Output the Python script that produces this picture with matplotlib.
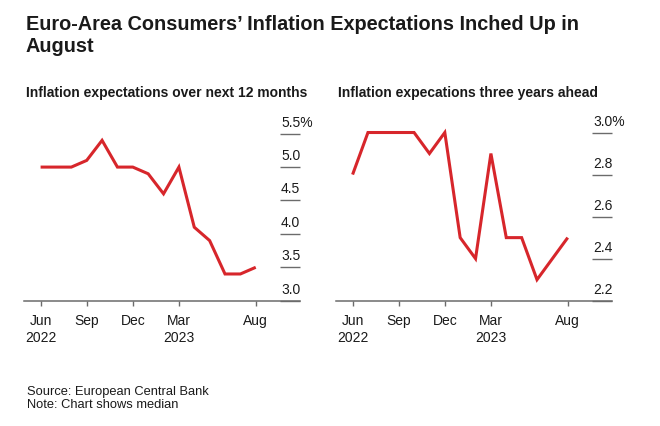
import matplotlib
matplotlib.use("Agg")
import matplotlib.pyplot as plt
import numpy as np

plt.rcParams['font.family'] = ['Liberation Sans', 'DejaVu Sans']

months = ["Jun 2022", "Jul", "Aug", "Sep", "Oct", "Nov", "Dec", "Jan 2023",
          "Feb", "Mar", "Apr", "May", "Jun", "Jul", "Aug 2023"]
one_year = [5.0, 5.0, 5.0, 5.1, 5.4, 5.0, 5.0, 4.9, 4.6, 5.0, 4.1, 3.9, 3.4, 3.4, 3.5]
three_year = [2.8, 3.0, 3.0, 3.0, 3.0, 2.9, 3.0, 2.5, 2.4, 2.9, 2.5, 2.5, 2.3, 2.4, 2.5]

xtick_pos = [0, 3, 6, 9, 14]
xtick_labels = ["Jun\n2022", "Sep", "Dec", "Mar\n2023", "Aug"]

left_yticks = [3.0, 3.5, 4.0, 4.5, 5.0, 5.5]
left_ylabels = ["3.0", "3.5", "4.0", "4.5", "5.0", "5.5%"]
right_yticks = [2.2, 2.4, 2.6, 2.8, 3.0]
right_ylabels = ["2.2", "2.4", "2.6", "2.8", "3.0%"]

title_lines = ["Euro-Area Consumers\u2019 Inflation Expectations Inched Up in", "August"]
sub_left = "Inflation expectations over next 12 months"
sub_right = "Inflation expecations three years ahead"
source_lines = ["Source: European Central Bank", "Note: Chart shows median"]

RED = "#d7262b"
GREY = "#6b6b6b"
TXT = "#1a1a1a"

W, H = 660, 426
fig = plt.figure(figsize=(W / 100, H / 100), dpi=100)

def make_ax(x0, x1, ytop_px, values, yticks, ylabels, ylim):
    ax = fig.add_axes([x0 / W, (H - 300.7) / H, (x1 - x0) / W, (300.7 - ytop_px) / H])
    x = np.arange(len(values))
    ax.plot(x, values, color=RED, lw=2.2, solid_joinstyle='miter', solid_capstyle='butt', zorder=3)
    ax.set_xlim(-1.08, 16.88)
    ax.set_ylim(*ylim)
    for s in ["top", "left", "right"]:
        ax.spines[s].set_visible(False)
    ax.spines["bottom"].set_color(GREY)
    ax.spines["bottom"].set_linewidth(1.1)
    ax.set_xticks(xtick_pos)
    ax.set_xticklabels(xtick_labels, fontsize=10, color=TXT, linespacing=1.25)
    ax.tick_params(axis='x', direction='out', length=3.8, width=1.0, color=GREY, pad=6)
    ax.yaxis.tick_right()
    ax.set_yticks(yticks)
    ax.tick_params(axis='y', direction='in', length=14.4, width=1.0, color=GREY,
                   labelright=False, labelleft=False, left=False, right=True)
    for v, lab in zip(yticks, ylabels):
        ax.annotate(lab, xy=(1, v), xycoords=('axes fraction', 'data'),
                    xytext=(-19, 7), textcoords='offset pixels',
                    ha='left', va='baseline', fontsize=10, color=TXT)
    return ax

ax1 = make_ax(24, 300, 127, one_year, left_yticks, left_ylabels, (3.0, 5.6))
ax2 = make_ax(336, 612, 122, three_year, right_yticks, right_ylabels, (2.2, 3.05))

for i, line in enumerate(title_lines):
    fig.text(26 / W, 1 - (30 + 21.7 * i) / H, line, fontsize=14.3, fontweight='bold',
             color=TXT, ha='left', va='baseline')
fig.text(26 / W, 1 - 97.3 / H, sub_left, fontsize=10, fontweight='bold', color=TXT,
         ha='left', va='baseline')
fig.text(338 / W, 1 - 97.3 / H, sub_right, fontsize=10, fontweight='bold', color=TXT,
         ha='left', va='baseline')
for i, line in enumerate(source_lines):
    fig.text(27 / W, 1 - (394.7 + 13.6 * i) / H, line, fontsize=9.3, color=TXT,
             ha='left', va='baseline')

fig.savefig("out.png", dpi=100, facecolor="white")
